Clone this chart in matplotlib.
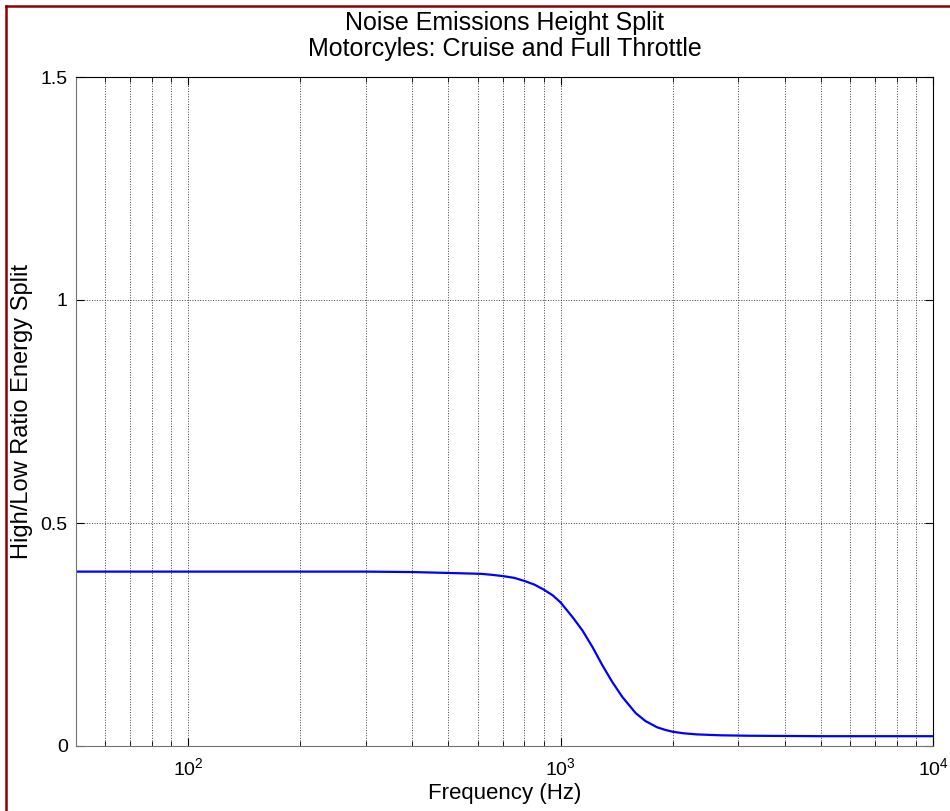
import numpy as np
import matplotlib
matplotlib.use("Agg")
import matplotlib.pyplot as plt
from matplotlib.lines import Line2D

plt.rcParams['font.family'] = ['Liberation Sans', 'DejaVu Sans']
plt.rcParams['mathtext.fontset'] = 'custom'
plt.rcParams['mathtext.rm'] = 'Liberation Sans'

# values
freq_hz = [50, 100, 200, 300, 400, 500, 612, 651, 700, 751, 800, 850, 900,
           952, 1000, 1077, 1145, 1218, 1295, 1377, 1465, 1590, 1690, 1816,
           1912, 2000, 2140, 2323, 2684, 3200, 5000, 10000]
energy_split = [0.391, 0.391, 0.391, 0.391, 0.390, 0.388, 0.386, 0.384, 0.381,
                0.377, 0.370, 0.362, 0.351, 0.338, 0.322, 0.289, 0.259, 0.222,
                0.181, 0.1435, 0.110, 0.074, 0.056, 0.042, 0.036, 0.032,
                0.0285, 0.026, 0.024, 0.023, 0.022, 0.022]
y_ticks = [0, 0.5, 1, 1.5]
y_tick_labels = ['0', '0.5', '1', '1.5']

fig = plt.figure(figsize=(9.5, 8.11), dpi=100)
ax = fig.add_axes([76 / 950, 1 - 746 / 811, (933 - 76) / 950, (746 - 77) / 811])

ax.semilogx(freq_hz, energy_split, color='#0000ff', lw=1.6)
ax.set_xlim(50, 1e4)
ax.set_ylim(0, 1.5)
ax.set_yticks(y_ticks)
ax.set_yticklabels(y_tick_labels)

# matlab style grid and box
ax.grid(True, which='major', axis='both', color='0.25', linestyle=':', lw=0.7)
ax.grid(True, which='minor', axis='x', color='0.25', linestyle=':', lw=0.7)
ax.tick_params(which='both', direction='in', top=True, right=True, labelsize=14)
ax.tick_params(axis='x', pad=8)
ax.tick_params(axis='y', pad=6)
ax.tick_params(which='major', length=6)
ax.tick_params(which='minor', length=3.5)
for s in ['left', 'bottom']:
    ax.spines[s].set_color('0.45')
for s in ['top', 'right']:
    ax.spines[s].set_color('k')

ax.set_title('Noise Emissions Height Split\nMotorcyles: Cruise and Full Throttle',
             fontsize=18, pad=15, linespacing=1.12)
ax.set_xlabel('Frequency (Hz)', fontsize=16, labelpad=3)
ax.set_ylabel('High/Low Ratio Energy Split', fontsize=17)
ax.yaxis.set_label_coords(-0.05, 0.5)

# dark red frame on left and top
fig.add_artist(Line2D([6 / 950, 6 / 950], [0, 1 - 6 / 811], color='#8b0000', lw=1.8,
                      transform=fig.transFigure))
fig.add_artist(Line2D([6 / 950, 1], [1 - 6 / 811, 1 - 6 / 811], color='#8b0000', lw=1.8,
                      transform=fig.transFigure))

fig.savefig('out.png', dpi=100)
